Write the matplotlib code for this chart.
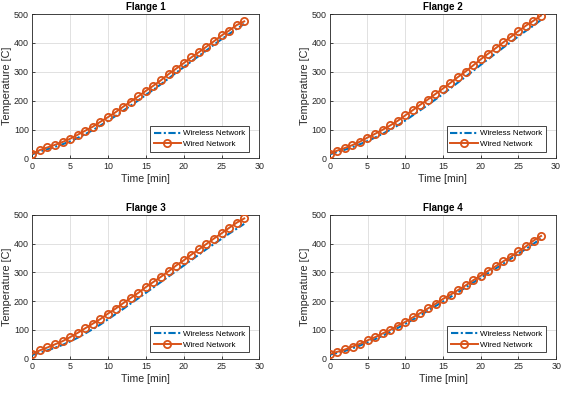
import numpy as np
import matplotlib.pyplot as plt

plt.rcParams["font.family"] = ["Liberation Sans", "DejaVu Sans"]

time_min = list(range(29))

wired_1 = [16, 29, 38, 47, 57, 68, 82, 96, 110, 127, 143, 160, 179, 197, 215,
           234, 252, 271, 292, 311, 330, 350, 368, 387, 406, 426, 443, 462, 475]
wireless_1 = [14, 24, 32, 40, 49, 59, 71, 84, 98, 114, 130, 147, 165, 183, 201,
              220, 238, 257, 277, 297, 316, 336, 355, 374, 394, 413, 431, 449, 466]

wired_2 = [16, 27, 36, 46, 58, 72, 85, 99, 114, 130, 149, 167, 186, 204, 223,
           242, 262, 282, 301, 322, 343, 363, 382, 402, 421, 441, 460, 477, 495]
wireless_2 = [14, 22, 30, 39, 49, 60, 72, 85, 99, 114, 131, 149, 167, 185, 204,
              223, 243, 263, 283, 303, 324, 344, 364, 384, 403, 423, 442, 460, 480]

wired_3 = [17, 29, 39, 50, 61, 75, 90, 106, 122, 138, 157, 174, 193, 211, 229,
           249, 267, 285, 304, 324, 342, 362, 380, 399, 418, 436, 455, 473, 488]
wireless_3 = [13, 21, 29, 38, 48, 60, 73, 88, 103, 119, 137, 155, 173, 192, 210,
              229, 248, 267, 286, 305, 324, 343, 362, 381, 399, 417, 435, 452, 469]

wired_4 = [17, 24, 32, 42, 52, 64, 75, 88, 100, 115, 128, 144, 159, 175, 191,
           208, 223, 239, 255, 273, 289, 306, 322, 339, 355, 374, 391, 411, 427]
wireless_4 = [14, 20, 27, 36, 46, 57, 68, 80, 93, 107, 121, 136, 151, 167, 183,
              199, 215, 231, 248, 265, 281, 298, 314, 331, 348, 365, 382, 400, 418]

titles = ["Flange 1", "Flange 2", "Flange 3", "Flange 4"]
wired = [wired_1, wired_2, wired_3, wired_4]
wireless = [wireless_1, wireless_2, wireless_3, wireless_4]

# axes boxes in figure fractions (left, bottom, width, height)
boxes = [
    [0.0575, 0.597, 0.404, 0.367],
    [0.5867, 0.597, 0.4027, 0.367],
    [0.0575, 0.0873, 0.404, 0.3657],
    [0.5870, 0.0873, 0.4027, 0.3657],
]

fig = plt.figure(figsize=(5.62, 3.93), dpi=100)

for k in range(4):
    ax = fig.add_axes(boxes[k])
    ax.plot(time_min, wireless[k], linestyle=(0, (3.5, 1.2, 1, 1.2)),
            color="#0072BD", lw=1.5, label="Wireless Network", zorder=3)
    ax.plot(time_min, wired[k], "-o", color="#D95319", lw=1.4, ms=5.2,
            mfc="none", mew=1.3, label="Wired Network", zorder=4)
    ax.set_xlim(0, 30)
    ax.set_ylim(0, 500)
    ax.set_xticks(range(0, 31, 5))
    ax.set_yticks(range(0, 501, 100))
    ax.grid(True, color="#dcdcdc", lw=0.6)
    ax.set_axisbelow(True)
    for s in ax.spines.values():
        s.set_color("#262626")
        s.set_linewidth(0.6)
    ax.tick_params(direction="in", length=2.5, width=0.6, labelsize=6.4,
                   colors="#262626", pad=2.5)
    ax.set_title(titles[k], fontsize=7, fontweight="bold", pad=3)
    ax.set_xlabel("Time [min]", fontsize=7.6, color="#262626", labelpad=2)
    ax.set_ylabel("Temperature [C]", fontsize=7.8, color="#262626", labelpad=1)
    leg = ax.legend(loc="lower right", fontsize=5.8, fancybox=False,
                    framealpha=1, edgecolor="#262626", borderpad=0.45,
                    handlelength=3.4, labelspacing=0.4, handletextpad=0.3,
                    borderaxespad=0, bbox_to_anchor=(0.956, 0.045))
    leg.get_frame().set_linewidth(0.6)

fig.savefig("out.png", dpi=100)
